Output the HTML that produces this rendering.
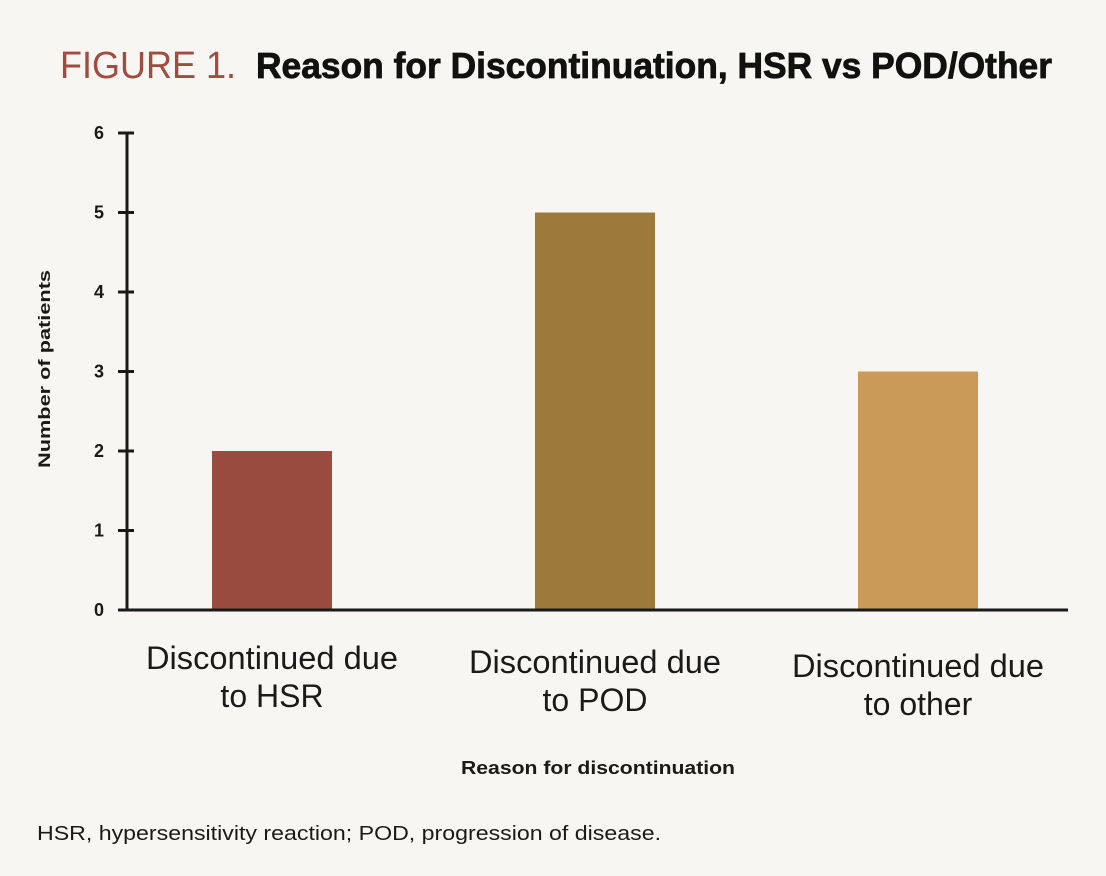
<!DOCTYPE html>
<html><head><meta charset="utf-8"><style>
body{margin:0;background:#f7f6f2;}
svg{display:block;}
text{font-family:"Liberation Sans",sans-serif;}
</style></head><body>
<svg id="chart" width="1106" height="876" viewBox="0 0 1106 876">
<rect width="1106" height="876" fill="#f7f6f2"/>
<text x="60" y="78" font-size="38" fill="#a04c40" textLength="176" lengthAdjust="spacingAndGlyphs">FIGURE 1.</text>
<text x="256" y="78" font-size="36" font-weight="bold" fill="#111" stroke="#111" stroke-width="0.8" textLength="796" lengthAdjust="spacingAndGlyphs">Reason for Discontinuation, HSR vs POD/Other</text>
<text transform="translate(50,369) rotate(-90)" text-anchor="middle" font-size="17" font-weight="bold" fill="#1a1a1a" textLength="198" lengthAdjust="spacingAndGlyphs">Number of patients</text>
<text x="598" y="774" text-anchor="middle" font-size="18" font-weight="bold" fill="#1a1a1a" textLength="274" lengthAdjust="spacingAndGlyphs">Reason for discontinuation</text>
<text x="37" y="840" font-size="20" fill="#1a1a1a" textLength="624" lengthAdjust="spacingAndGlyphs">HSR, hypersensitivity reaction; POD, progression of disease.</text>
<g id="plot"></g>
</svg>
<script>
const categories = [["Discontinued due","to HSR"],["Discontinued due","to POD"],["Discontinued due","to other"]];
const values = [2, 5, 3];
const colors = ["#9a4b3f","#9e7a3a","#c99a58"];
const yTicks = [0,1,2,3,4,5,6];

const NS="http://www.w3.org/2000/svg";
const g=document.getElementById('plot');
const y0=610, yTop=133, yMax=6;
const yScale=v=>y0-(v/yMax)*(y0-yTop);
const centers0=272, step=323;
const xScale=i=>centers0+i*step;
const barW=120;
function el(tag,attrs){const e=document.createElementNS(NS,tag);for(const k in attrs)e.setAttribute(k,attrs[k]);g.appendChild(e);return e;}

values.forEach((v,i)=>{
  const b=el('rect',{x:xScale(i)-barW/2,y:yScale(v),width:barW,height:y0-yScale(v),fill:colors[i]});
  
  
  categories[i].forEach((line,j)=>{
    const t=el('text',{x:xScale(i),y:669+i*4+j*38,'text-anchor':'middle','font-size':32,fill:'#1a1a1a'});
    if(j===0){t.setAttribute('textLength',252);t.setAttribute('lengthAdjust','spacingAndGlyphs');}
    t.textContent=line;
    
    
  });
});
const ya=el('line',{x1:127,y1:yTop,x2:127,y2:y0+1.5,stroke:'#1a1a1a','stroke-width':3});


const xa=el('line',{x1:118,y1:y0,x2:1068,y2:y0,stroke:'#1a1a1a','stroke-width':3});


yTicks.forEach(t=>{
  const tk=el('line',{x1:118,y1:yScale(t),x2:134,y2:yScale(t),stroke:'#1a1a1a','stroke-width':3});
  
  
  const lb=el('text',{x:99,y:yScale(t)+6,'text-anchor':'middle','font-size':18,'font-weight':'bold',fill:'#1a1a1a'});
  lb.textContent=t;
  
  
});
</script>
</body></html>
